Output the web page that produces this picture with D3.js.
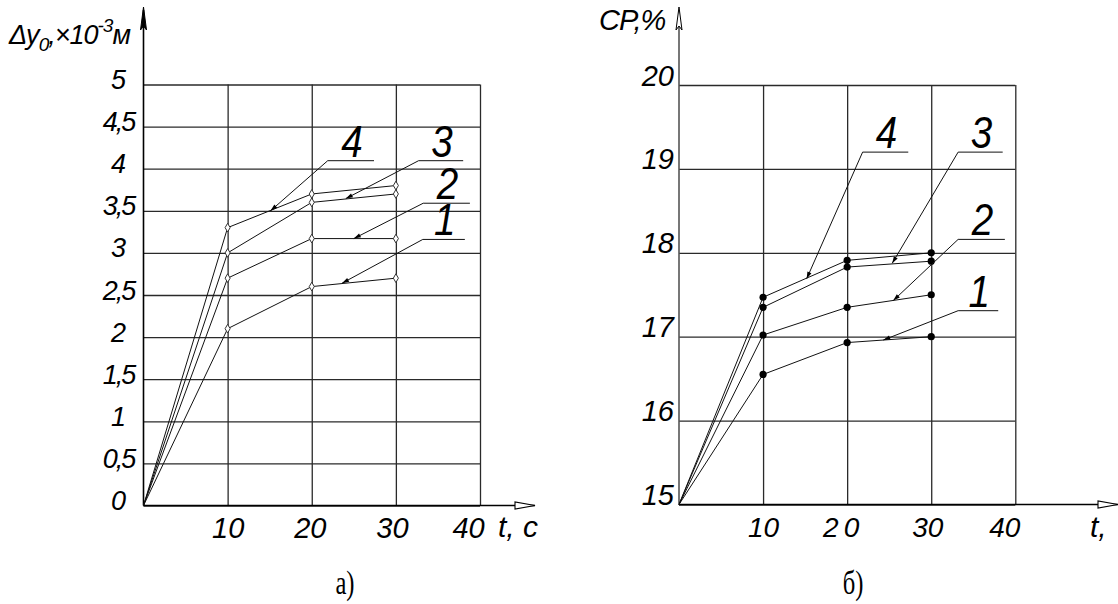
<!DOCTYPE html>
<html><head><meta charset="utf-8">
<script src="https://cdn.jsdelivr.net/npm/d3@7"></script>
<style>body{margin:0;background:#fff}svg{display:block}</style>
</head><body>
<svg id="c" width="1118" height="604"></svg>
<script>
// ---------- data ----------
const tValues = [0, 10, 20, 30];
const xTicks = [10, 20, 30, 40];
const xTickLabels = ["10", "20", "30", "40"];
const seriesNames = ["1", "2", "3", "4"];

// panel а) : Δy0, ×10^-3 м
const aYTicks = [0, 0.5, 1, 1.5, 2, 2.5, 3, 3.5, 4, 4.5, 5];
const aYTickLabels = ["0", "0,5", "1", "1,5", "2", "2,5", "3", "3,5", "4", "4,5", "5"];
const aS1 = [0, 2.1, 2.6, 2.7];
const aS2 = [0, 2.7, 3.17, 3.17];
const aS3 = [0, 3.0, 3.6, 3.7];
const aS4 = [0, 3.3, 3.7, 3.8];
// leader lines: [start t, start value, elbow t, elbow value, end t]
const aLeaders = [
  [23.6, 2.64, 33.2, 3.16, 38.2],
  [25.0, 3.17, 33.25, 3.59, 38.8],
  [24.05, 3.645, 32.7, 4.095, 38.0],
  [15.1, 3.5, 21.9, 4.095, 27.4]
];

// panel б) : CP, %
const bYTicks = [15, 16, 17, 18, 19, 20];
const bYTickLabels = ["15", "16", "17", "18", "19", "20"];
const bS1 = [15, 16.55, 16.93, 17.0];
const bS2 = [15, 17.02, 17.35, 17.5];
const bS3 = [15, 17.35, 17.83, 17.9];
const bS4 = [15, 17.47, 17.91, 18.0];
const bLeaders = [
  [24.3, 16.96, 33.2, 17.31, 37.97],
  [25.48, 17.43, 33.2, 18.16, 38.76],
  [25.36, 17.875, 33.2, 19.2, 38.5],
  [15.18, 17.69, 21.84, 19.2, 27.27]
];

// ---------- drawing ----------
const svg = d3.select("#c");
const FONT = "'Liberation Sans', Arial, sans-serif";
const SERIF = "'Liberation Serif', 'Times New Roman', serif";

function panel(cfg) {
  const x = d3.scaleLinear().domain([0, 40]).range(cfg.xRange);
  const y = d3.scaleLinear().domain(cfg.yDomain).range(cfg.yRange);
  const g = svg.append("g");
  const x0 = x(0), y0 = y(cfg.yDomain[0]);

  // horizontal grid + y tick labels
  const ya = g.append("g").attr("transform", `translate(${x0},0)`)
    .call(d3.axisLeft(y).tickValues(cfg.yTicks)
      .tickFormat((d, i) => cfg.yTickLabels[i])
      .tickSize(-(x(40) - x0)).tickPadding(0));
  ya.select(".domain").remove();
  ya.selectAll(".tick line").attr("stroke", "#2a2a2a").attr("stroke-width", 1.3);
  ya.selectAll(".tick text")
    .attr("font-family", FONT).attr("font-style", "italic")
    .attr("font-size", cfg.yFont).attr("fill", "#000")
    .attr("text-anchor", cfg.yAnchor)
    .attr("x", cfg.yLabelDx)
    .attr("dy", null).attr("y", cfg.yLabelDy)
    .attr("letter-spacing", (d, i) => (cfg.yTickLabels[i].indexOf(",") >= 0 ? -2 : 0));

  // vertical grid + x tick labels
  const xa = g.append("g").attr("transform", `translate(0,${y0})`)
    .call(d3.axisBottom(x).tickValues(xTicks)
      .tickFormat((d, i) => xTickLabels[i])
      .tickSize(-(y0 - y(cfg.yDomain[1]))).tickPadding(0));
  xa.select(".domain").remove();
  xa.selectAll(".tick line").attr("stroke", "#2a2a2a").attr("stroke-width", 1.3);
  xa.selectAll(".tick text")
    .attr("font-family", FONT).attr("font-style", "italic")
    .attr("font-size", cfg.xFont).attr("fill", "#000")
    .attr("dy", null).attr("y", 32)
    .attr("letter-spacing", (d, i) => (cfg.spaced && i === 1 ? 5 : 0))
    .attr("x", (d, i) => cfg.xLabelShift[i]);

  // axes with arrows
  g.append("line").attr("x1", x0).attr("x2", x0).attr("y1", y0).attr("y2", 10)
    .attr("stroke", cfg.yAxisColor).attr("stroke-width", 1.6);
  g.append("path")
    .attr("d", `M${x0},7 L${x0 - 3},30 L${x0},26 L${x0 + 3},30 Z`)
    .attr("fill", cfg.yArrowFill).attr("stroke", "#000").attr("stroke-width", 1);
  g.append("line").attr("x1", x0).attr("x2", cfg.xAxisEnd).attr("y1", y0).attr("y2", y0)
    .attr("stroke", "#000").attr("stroke-width", 1.6);
  g.append("path")
    .attr("d", `M${cfg.xAxisEnd},${y0} L${cfg.xAxisEnd - 20},${y0 - 3.5} L${cfg.xAxisEnd - 20},${y0 + 3.5} Z`)
    .attr("fill", "#fff").attr("stroke", "#000").attr("stroke-width", 1.1);

  // series lines
  const line = d3.line().x((d, i) => x(tValues[i])).y(d => y(d));
  cfg.series.forEach(s => {
    g.append("path").attr("d", line(s)).attr("fill", "none")
      .attr("stroke", "#111").attr("stroke-width", 1);
    s.forEach((v, i) => {
      if (i === 0) return;
      if (cfg.marker === "diamond") {
        g.append("path")
          .attr("d", d3.symbol(d3.symbolDiamond, 22)())
          .attr("transform", `translate(${x(tValues[i])},${y(v)})`)
          .attr("fill", "#fff").attr("stroke", "#333").attr("stroke-width", 1);
      } else {
        g.append("circle").attr("cx", x(tValues[i])).attr("cy", y(v)).attr("r", 3.6)
          .attr("fill", "#000");
      }
    });
  });

  // leaders + series labels
  cfg.leaders.forEach((L, k) => {
    const sx = x(L[0]), sy = y(L[1]), ex = x(L[2]), ey = y(L[3]), hx = x(L[4]);
    g.append("path").attr("d", `M${sx},${sy} L${ex},${ey} L${hx},${ey}`)
      .attr("fill", "none").attr("stroke", "#111").attr("stroke-width", 1);
    const ang = Math.atan2(ey - sy, ex - sx) * 180 / Math.PI;
    g.append("path").attr("d", "M0,0 L7,-2.2 L7,2.2 Z")
      .attr("transform", `translate(${sx},${sy}) rotate(${ang})`).attr("fill", "#000");
    const cx = (ex + hx) / 2 + 1;
    g.append("text").text(seriesNames[k])
      .attr("transform", `translate(${cx},${ey - 4}) scale(0.92,1.05)`)
      .attr("text-anchor", "middle").attr("font-family", FONT)
      .attr("font-style", "italic").attr("font-size", 42).attr("fill", "#000");
  });
  return { x, y, g };
}

panel({
  xRange: [143.5, 480], yDomain: [0, 5], yRange: [505.5, 84.5],
  yTicks: aYTicks, yTickLabels: aYTickLabels, yFont: 27,
  yAnchor: "middle", yLabelDx: -25, yLabelDy: 4,
  xFont: 29, xLabelShift: [0, -2, -4, -12], spaced: false,
  yAxisColor: "#000", yArrowFill: "#000", xAxisEnd: 535,
  series: [aS1, aS2, aS3, aS4], marker: "diamond", leaders: aLeaders
});
panel({
  xRange: [679, 1015.3], yDomain: [15, 20], yRange: [504.5, 85],
  yTicks: bYTicks, yTickLabels: bYTickLabels, yFont: 29,
  yAnchor: "end", yLabelDx: -5, yLabelDy: 0,
  xFont: 28, xLabelShift: [0, -4, -4, -11], spaced: true,
  yAxisColor: "#555", yArrowFill: "#fff", xAxisEnd: 1118,
  series: [bS1, bS2, bS3, bS4], marker: "dot", leaders: bLeaders
});

// axis titles
const tA = svg.append("text").attr("x", 9).attr("y", 44)
  .attr("font-family", FONT).attr("font-style", "italic").attr("font-size", 27)
  .attr("letter-spacing", -1);
tA.append("tspan").text("Δy");
tA.append("tspan").text("0").attr("font-size", 19).attr("dy", 7);
tA.append("tspan").text(",×10").attr("dy", -7);
tA.append("tspan").text("-3").attr("font-size", 19).attr("dy", -12);
tA.append("tspan").text("м").attr("dy", 12);

svg.append("text").attr("x", 599).attr("y", 30).text("CP,%")
  .attr("font-family", FONT).attr("font-style", "italic").attr("font-size", 29)
  .attr("letter-spacing", -1);

svg.append("text").attr("x", 498).attr("y", 537).text("t, c")
  .attr("font-family", FONT).attr("font-style", "italic").attr("font-size", 30);
svg.append("text").attr("x", 1090).attr("y", 537).text("t,")
  .attr("font-family", FONT).attr("font-style", "italic").attr("font-size", 30);

// captions
svg.append("text").attr("transform", "translate(345,594) scale(0.88,1.22)").text("а)")
  .attr("text-anchor", "middle").attr("font-family", SERIF).attr("font-size", 28);
svg.append("text").attr("transform", "translate(853,594) scale(0.88,1.22)").text("б)")
  .attr("text-anchor", "middle").attr("font-family", SERIF).attr("font-size", 28);
</script>
</body></html>
